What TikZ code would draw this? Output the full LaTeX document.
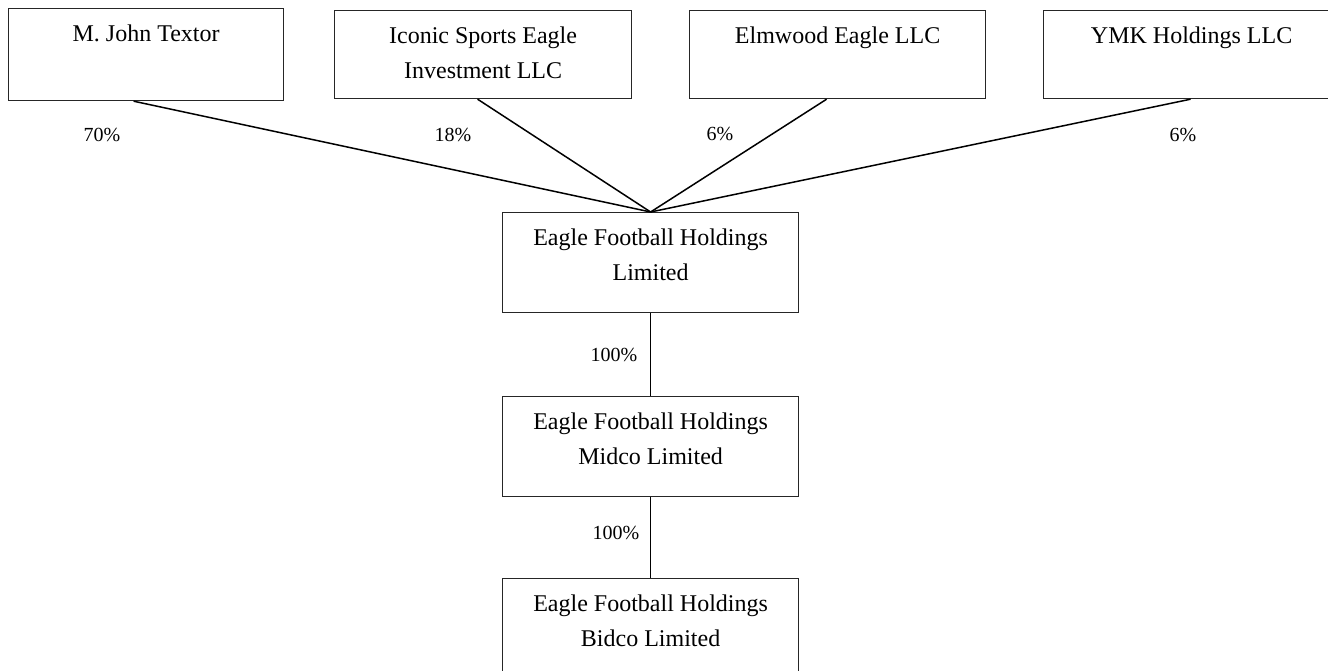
\documentclass[tikz,border=0pt]{standalone}
\usepackage{fontspec}
\setmainfont{Liberation Serif}
\newcommand{\orgtext}[3]{\parbox[t][#1][t]{#2}{\centering\fontsize{24pt}{35pt}\selectfont\rule{0pt}{33pt}#3}}
\tikzset{
  org/.style={draw=black!85, line width=1.2pt, inner sep=0pt, anchor=north west},
  link/.style={draw=black, line width=1.5pt},
  pct/.style={inner sep=0pt, font=\fontsize{20pt}{24pt}\selectfont}
}
\begin{document}
\begin{tikzpicture}[x=1pt,y=-1pt]
\useasboundingbox (0,0) rectangle (1328,671);
\clip (0,0) rectangle (1328,671);
% top row
\node[org] (t1) at (8,8) {\orgtext{92pt}{275pt}{M. John Textor}};
\node[org] (t2) at (334,10) {\orgtext{88pt}{297pt}{Iconic Sports Eagle\\Investment LLC}};
\node[org] (t3) at (689,10) {\orgtext{88pt}{296pt}{Elmwood Eagle LLC}};
\node[org] (t4) at (1043,10) {\orgtext{88pt}{296pt}{YMK Holdings LLC}};
% chain
\node[org] (a) at (502,212) {\orgtext{100pt}{296pt}{Eagle Football Holdings\\Limited}};
\node[org] (b) at (502,396) {\orgtext{100pt}{296pt}{Eagle Football Holdings\\Midco Limited}};
\node[org] (c) at (502,578) {\orgtext{110pt}{296pt}{Eagle Football Holdings\\Bidco Limited}};
% connectors
\draw[link] ([xshift=-12.5pt]t1.south) -- (a.north);
\draw[link] ([xshift=-5.5pt]t2.south) -- (a.north);
\draw[link] ([xshift=-11pt]t3.south) -- (a.north);
\draw[link] ([xshift=-1pt]t4.south) -- (a.north);
\draw[link] (a.south) -- (b.north);
\draw[link] (b.south) -- (c.north);
% labels
\node[pct] (p1) at (102,135) {70\%};
\node[pct] (p2) at (453,135) {18\%};
\node[pct] (p3) at (720,134) {6\%};
\node[pct] (p4) at (1183,135) {6\%};
\node[pct] (p5) at (614,355) {100\%};
\node[pct] (p6) at (616,533) {100\%};
\end{tikzpicture}
\end{document}
